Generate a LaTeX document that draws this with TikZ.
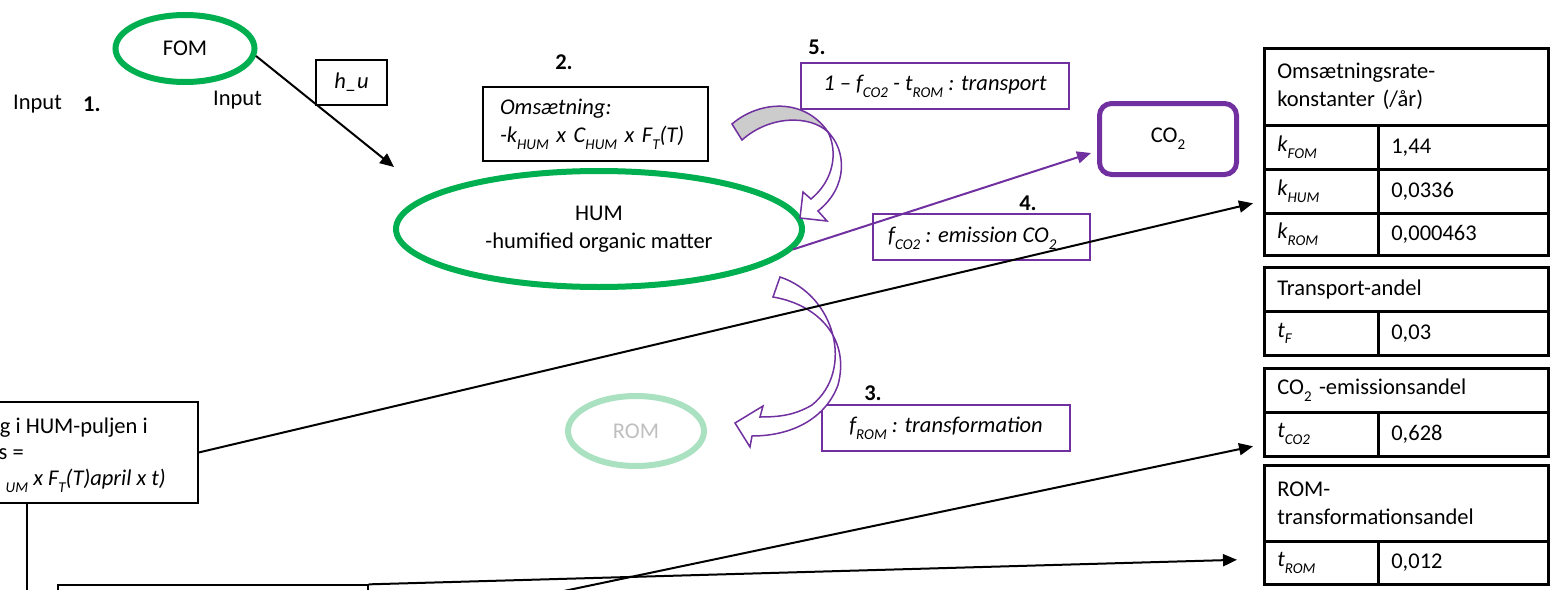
\documentclass[tikz,border=0pt]{standalone}
\usepackage{fontspec}
\setmainfont{Carlito}
\usetikzlibrary{arrows.meta,calc,shapes.geometric}
\definecolor{mygreen}{RGB}{0,176,80}
\definecolor{romgreen}{RGB}{170,225,192}
\definecolor{romtext}{RGB}{191,191,191}
\definecolor{mypurple}{RGB}{112,48,160}
\definecolor{arrowgray}{RGB}{204,204,204}
\newcommand{\sub}[1]{\raisebox{-0.3em}{\fontsize{15}{15}\selectfont #1}}
\begin{document}
\begin{tikzpicture}[x=1pt,y=-1pt,
  font=\fontsize{22.5}{28}\selectfont,
  pool/.style={ellipse, draw=mygreen, line width=6pt, inner sep=0pt, align=center},
  tbox/.style={draw=black, line width=1.3pt, inner sep=0pt},
  pbox/.style={draw=mypurple, line width=1.5pt, inner sep=0pt},
  lbl/.style={inner sep=0pt},
  num/.style={inner sep=0pt, font=\fontsize{22.5}{28}\selectfont\bfseries},
  cell/.style={draw=black, line width=2.6pt, inner xsep=13pt, inner ysep=0pt, align=left, anchor=north west},
  arr/.style={line width=2pt, -{Triangle[length=14pt,width=12pt]}},
  parr/.style={draw=mypurple, line width=2pt, -{Triangle[length=14pt,width=12pt]}},
  blockarr/.style={draw=mypurple, line width=1.5pt, line join=miter},
]
\useasboundingbox (0,0) rectangle (1550,589);
\clip (0,0) rectangle (1550,589);

% labels
\node[lbl, anchor=west] (in1) at (13,104) {Input};
\node[num, anchor=west] (n1) at (83,104) {1.};
\node[lbl, anchor=west] (in2) at (213,100) {Input};
\node[num] (n2) at (564,62) {2.};
\node[num] (n5) at (817,47) {5.};
\node[num] (n4) at (1028,203) {4.};
\node[num] (n3) at (873,393) {3.};

% pools
\node[pool, minimum width=139pt, minimum height=67pt] (fom) at (185,48.5) {FOM};
\node[pool, minimum width=406pt, minimum height=116pt] (hum) at (599,229) {HUM\\-humified organic matter};
\node[ellipse, draw=romgreen, line width=6pt, inner sep=0pt, text=romtext,
      minimum width=136pt, minimum height=70pt] (rom) at (636,431) {ROM};

% boxes
\node[tbox, minimum width=71pt, minimum height=45pt] (hu) at (351.5,82.5) {\itshape h\_u};
\node[tbox, minimum width=225pt, minimum height=74pt, inner xsep=17pt, text width=191pt, align=left]
  (oms) at (595.5,124) {\itshape Omsætning:\\-k\sub{HUM} x C\sub{HUM} x F\sub{T}(T)};
\node[pbox, minimum width=268pt, minimum height=46pt] (b5) at (935,86)
  {\itshape 1 – f\sub{CO2} - t\sub{ROM} : transport};
\node[draw=mypurple, line width=5pt, rounded corners=12pt, inner sep=0pt,
      minimum width=137pt, minimum height=71pt] (co2) at (1168,139) {CO\sub{2}};
\node[pbox, minimum width=217pt, minimum height=46pt] (b4) at (981.5,237) {};
\node[lbl, anchor=west] (t4) at (888,238) {\itshape f\sub{CO2} : emission CO\sub{2}};
\node[pbox, minimum width=248pt, minimum height=46pt] (b3) at (946,428)
  {\itshape f\sub{ROM} : transformation};

% left partial boxes
\node[tbox, minimum width=348pt, minimum height=101pt] (hbox) at (24,452.5) {};
\node[lbl, anchor=east] (h1) at (148,428) {g i HUM-puljen i};
\node[lbl, anchor=east] (h2) at (24,454) {s =};
\node[lbl, anchor=east] (h3) at (166,481) {\itshape \sub{UM} x F\sub{T}(T)april x t)};
\node[tbox, minimum width=310pt, minimum height=115pt] (bot) at (213,642.5) {};

% tables
\node[cell, text width=258pt, minimum height=77pt] (h1t) at (1263,47) {Omsætningsrate-\\konstanter (/år)};
\node[cell, text width=88pt, minimum height=44pt] (k1) at (1263,124) {\itshape k\sub{FOM}};
\node[cell, text width=144pt, minimum height=44pt] (v1) at (1377,124) {1,44};
\node[cell, text width=88pt, minimum height=44pt] (k2) at (1263,168) {\itshape k\sub{HUM}};
\node[cell, text width=144pt, minimum height=44pt] (v2) at (1377,168) {0,0336};
\node[cell, text width=88pt, minimum height=42pt] (k3) at (1263,212) {\itshape k\sub{ROM}};
\node[cell, text width=144pt, minimum height=42pt] (v3) at (1377,212) {0,000463};

\node[cell, text width=258pt, minimum height=44pt] (h2t) at (1263,266) {Transport-andel};
\node[cell, text width=88pt, minimum height=44pt] (k4) at (1263,310) {\itshape t\sub{F}};
\node[cell, text width=144pt, minimum height=44pt] (v4) at (1377,310) {0,03};

\node[cell, text width=258pt, minimum height=44pt] (h3t) at (1263,367) {CO\sub{2} -emissionsandel};
\node[cell, text width=88pt, minimum height=44pt] (k6) at (1263,411) {\itshape t\sub{CO2}};
\node[cell, text width=144pt, minimum height=44pt] (v6) at (1377,411) {0,628};

\node[cell, text width=258pt, minimum height=76pt] (h4t) at (1263,464) {ROM-\\transformationsandel};
\node[cell, text width=88pt, minimum height=43pt] (k7) at (1263,540) {\itshape t\sub{ROM}};
\node[cell, text width=144pt, minimum height=43pt] (v7) at (1377,540) {0,012};

% block arrow 5 (HUM recycling)
\fill[arrowgray] (732,124) .. controls (760,100) and (805,98) .. (828,132)
   .. controls (810,115) and (770,115) .. (742,140) -- cycle;
\draw[blockarr] (732,124) .. controls (760,100) and (805,98) .. (828,132)
   .. controls (810,115) and (770,115) .. (742,140) -- cycle;
\draw[blockarr, fill=white] (828,132) .. controls (846,150) and (849,186) .. (818,211)
   -- (827,221) -- (800,218) -- (803,192) -- (811,199)
   .. controls (834,180) and (838,152) .. (828,132) -- cycle;

% block arrow 3 (HUM -> ROM)
\draw[blockarr, fill=white] (780,277) .. controls (835,295) and (855,370) .. (812,405)
   .. controls (795,415) and (780,417) .. (760,417) -- (763,406) -- (735,423)
   -- (750,447) -- (752,436) .. controls (790,436) and (825,420) .. (838,385)
   .. controls (850,340) and (820,305) .. (773,297) -- cycle;

% connectors
\coordinate (hin) at (394,167);
\coordinate (vl) at (27,600);
\coordinate (c2) at (521,600);
\draw[arr] (fom.-6) -- (hin);
\draw[parr] (hum.-6) -- ($(co2.west)+(-6,14)$);
\draw[arr] (hbox.east) -- ($(k2.west)+(-10,12)$);
\draw[arr] (c2) -- ($(k6.west)+(-10,12)$);
\draw[arr] (bot.north east) -- ($(k7.west)+(-26,-3)$);
\draw[line width=2pt] (hbox.south -| vl) -- (vl);
\end{tikzpicture}
\end{document}
